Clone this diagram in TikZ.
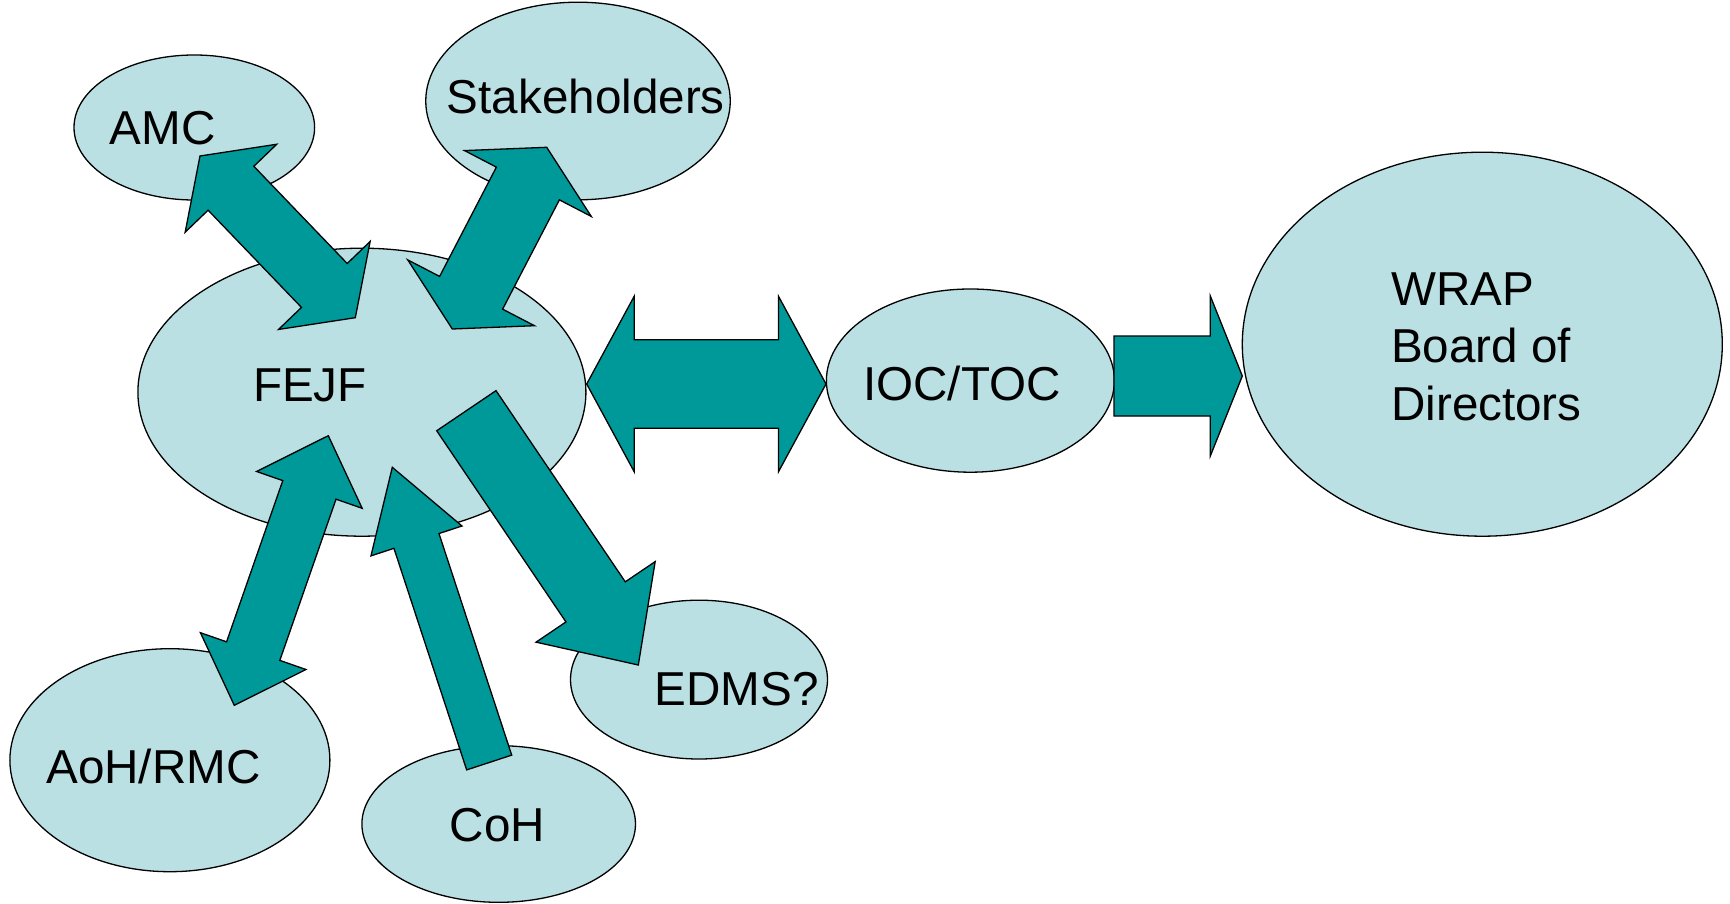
\documentclass[tikz,border=0pt]{standalone}
\usepackage{fontspec}
\setmainfont{Liberation Sans}
\usetikzlibrary{calc,shapes.geometric}
\definecolor{bubble}{HTML}{BAE0E3}
\definecolor{teal}{HTML}{009999}
\tikzset{
  bubblestyle/.style={ellipse, draw=black, line width=1.3pt, fill=bubble, inner sep=0pt},
  blockarrow/.style={draw=black, line width=1.3pt, fill=teal, line join=miter},
  label/.style={inner sep=0pt, anchor=base, font=\fontsize{47.6}{57.4}\selectfont}
}
% double block arrow: #1 tip A, #2 tip B, #3 head length, #4 head half width, #5 shaft half width
\newcommand{\dblblock}[5]{%
  \filldraw[blockarrow] (#1)
    -- ($(#1)!#3!(#2)!#4!90:(#2)$) -- ($(#1)!#3!(#2)!#5!90:(#2)$)
    -- ($(#2)!#3!(#1)!#5!-90:(#1)$) -- ($(#2)!#3!(#1)!#4!-90:(#1)$)
    -- (#2)
    -- ($(#2)!#3!(#1)!#4!90:(#1)$) -- ($(#2)!#3!(#1)!#5!90:(#1)$)
    -- ($(#1)!#3!(#2)!#5!-90:(#2)$) -- ($(#1)!#3!(#2)!#4!-90:(#2)$)
    -- cycle;}
% single block arrow: #1 tail centre, #2 tip, #3 head length, #4 head half width, #5 shaft half width
\newcommand{\oneblock}[5]{%
  \filldraw[blockarrow] ($(#1)!#5!90:(#2)$)
    -- ($(#2)!#3!(#1)!#5!-90:(#1)$) -- ($(#2)!#3!(#1)!#4!-90:(#1)$)
    -- (#2)
    -- ($(#2)!#3!(#1)!#4!90:(#1)$) -- ($(#2)!#3!(#1)!#5!90:(#1)$)
    -- ($(#1)!#5!-90:(#2)$) -- cycle;}
\begin{document}
\begin{tikzpicture}[x=1pt,y=-1pt]
\useasboundingbox (0,0) rectangle (1730,904);
% bubbles
\node[bubblestyle, minimum width=240.6pt, minimum height=145pt] (amc) at (194.3,127.5) {};
\node[bubblestyle, minimum width=304.5pt, minimum height=197.6pt] (stake) at (578,101) {};
\node[bubblestyle, minimum width=448pt, minimum height=288pt] (fejf) at (361.9,392.2) {};
\node[bubblestyle, minimum width=288pt, minimum height=183.2pt] (ioc) at (970.4,380.6) {};
\node[bubblestyle, minimum width=480pt, minimum height=384pt] (wrap) at (1482.3,344.2) {};
\node[bubblestyle, minimum width=257pt, minimum height=158.8pt] (edms) at (699,679.6) {};
\node[bubblestyle, minimum width=320pt, minimum height=223pt] (aoh) at (169.9,760.2) {};
\node[bubblestyle, minimum width=273.6pt, minimum height=156.6pt] (coh) at (498.7,824) {};
% arrow end points
\coordinate (amcA) at (200,156);
\coordinate (amcB) at (355.3,317.7);
\coordinate (stA) at (546.7,147.3);
\coordinate (stB) at (452.3,329);
\coordinate (aohA) at (328.3,435.7);
\coordinate (aohB) at (234.3,705.3);
\coordinate (hA) at (586.7,384);
\coordinate (hB) at (826,384);
\coordinate (wT) at (1114,376);
\coordinate (wP) at (1242.3,376);
\coordinate (eT) at (466.35,410.7);
\coordinate (eP) at (638.3,665);
\coordinate (cT) at (489.2,762.5);
\coordinate (cP) at (392.3,467.3);
% arrows
\dblblock{amcA}{amcB}{44.7pt}{63.5pt}{31.7pt}
\dblblock{stA}{stB}{40.8pt}{71.4pt}{35.5pt}
\dblblock{aohA}{aohB}{57.4pt}{55.9pt}{28.2pt}
\dblblock{hA}{hB}{47.6pt}{87.9pt}{44.2pt}
\oneblock{wT}{wP}{32pt}{80pt}{40pt}
\oneblock{eT}{eP}{76.2pt}{71.9pt}{35.8pt}
\oneblock{cT}{cP}{77.5pt}{47.9pt}{23.7pt}
% labels
\node[label] (tamc) at (162.7,145) {AMC};
\node[label] (tstake) at (585.9,114) {Stakeholders};
\node[label] (tfejf) at (310,401) {FEJF};
\node[label] (tioc) at (962,400) {IOC/TOC};
\node[label] (tedms) at (736.5,705.5) {EDMS?};
\node[label] (taoh) at (153.4,783.8) {AoH/RMC};
\node[label] (tcoh) at (497.6,841.2) {CoH};
\node[label, anchor=west, align=left] (twrap) at (1391,346.5) {WRAP\\Board of\\Directors};
\end{tikzpicture}
\end{document}
